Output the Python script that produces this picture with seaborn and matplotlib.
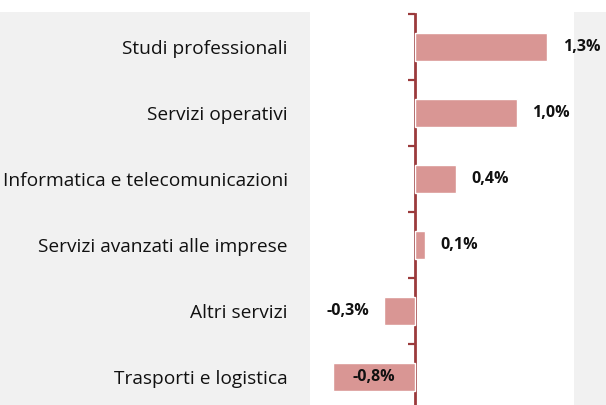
import matplotlib
matplotlib.use("Agg")
import matplotlib.pyplot as plt
import matplotlib.patches as mpatches
import seaborn as sns
import pandas as pd
import numpy as np

categories = ['Studi professionali', 'Servizi operativi', 'Informatica e telecomunicazioni',
              'Servizi avanzati alle imprese', 'Altri servizi', 'Trasporti e logistica']
values = [1.3, 1.0, 0.4, 0.1, -0.3, -0.8]
value_labels = ['1,3%', '1,0%', '0,4%', '0,1%', '-0,3%', '-0,8%']

bar_color = '#d99694'
axis_color = '#9b3a3c'
bg_gray = '#f1f1f1'

sns.set_theme(style="white")
plt.rcParams['font.family'] = ['Open Sans', 'DejaVu Sans']

df = pd.DataFrame({'categoria': categories, 'valore': values})

W, H = 606, 405
fig = plt.figure(figsize=(W / 100, H / 100), dpi=100)
fig.patch.set_facecolor('white')
# grey panel behind everything (Excel chart area)
fig.patches.append(mpatches.Rectangle((0, 0), 1, (H - 12) / H, transform=fig.transFigure,
                                      facecolor=bg_gray, edgecolor='none', zorder=-10))
# white plot area strip above the axes
fig.patches.append(mpatches.Rectangle((310 / W, (H - 14) / H), 264 / W, 3 / H, transform=fig.transFigure,
                                      facecolor='white', edgecolor='none', zorder=-9))

ax = fig.add_axes([310 / W, -5 / H, 264 / W, 396 / H])
ax.set_facecolor('white')

sns.barplot(data=df, x='valore', y='categoria', orient='h', color=bar_color,
            width=0.41, saturation=1, ax=ax)

xmin, xmax = -1.03, 1.56
ax.set_xlim(xmin, xmax)
ax.set_ylim(len(categories) - 0.5, -0.5)
for s in ax.spines.values():
    s.set_visible(False)
ax.set_xticks([])
ax.set_xlabel('')
ax.set_ylabel('')
ax.tick_params(axis='y', length=0, pad=16, labelsize=13.8, colors='#111111')

# zero axis with tick marks between categories
zero_pos = (0 - xmin) / (xmax - xmin)
sec = ax.secondary_yaxis(zero_pos)
sec.spines['left'].set_color(axis_color)
sec.spines['left'].set_linewidth(2)
sec.set_yticks(np.arange(-0.5, len(categories), 1))
sec.set_yticklabels([])
sec.tick_params(axis='y', length=5, width=1.6, color=axis_color, direction='out')

lab_kw = dict(va='center', fontsize=11.5, fontweight='bold', color='#111111')
for i, (v, lab) in enumerate(zip(values, value_labels)):
    if v >= 0:
        ax.annotate(lab, (v, i), xytext=(11, 0), textcoords='offset points', ha='left', **lab_kw)
    elif v - 0.45 < xmin:
        ax.text(v / 2, i, lab, ha='center', **lab_kw)
    else:
        ax.annotate(lab, (v, i), xytext=(-11, 0), textcoords='offset points', ha='right', **lab_kw)

fig.savefig('out.png', dpi=100)
